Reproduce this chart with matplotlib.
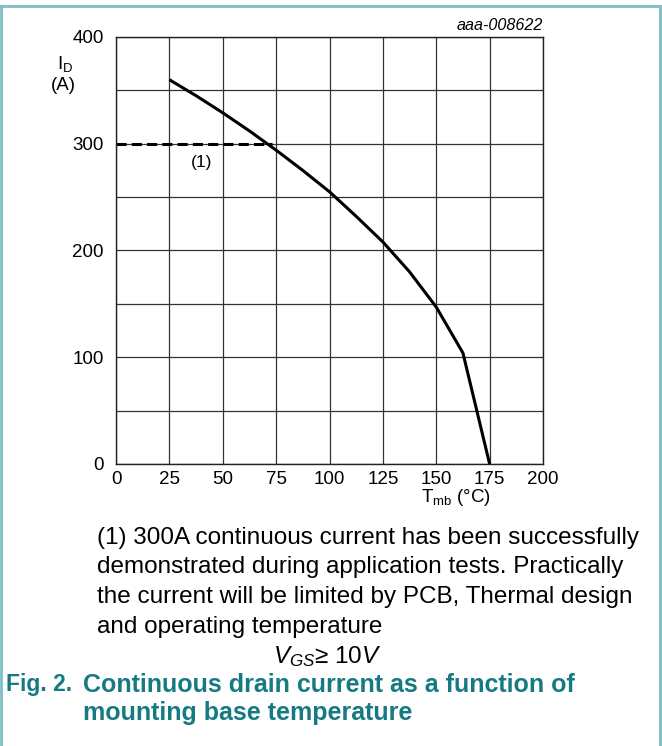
import matplotlib
matplotlib.use("Agg")
import matplotlib.pyplot as plt
from matplotlib.lines import Line2D

plt.rcParams['font.family'] = ['Liberation Sans', 'DejaVu Sans']
plt.rcParams['mathtext.fontset'] = 'custom'
plt.rcParams['mathtext.rm'] = 'Liberation Sans'
plt.rcParams['mathtext.it'] = 'Liberation Sans:italic'

# data
t_mb = [25, 37.5, 50, 62.5, 75, 87.5, 100, 112.5, 125, 137.5, 150, 162.5, 175]
i_d = [360, 345, 329, 312, 294, 275, 255, 232, 208, 180, 147, 104, 0]
limit_t = [0, 73]
limit_i = [300, 300]
x_ticks = [0, 25, 50, 75, 100, 125, 150, 175, 200]
y_ticks = [0, 100, 200, 300, 400]

W, H = 662, 746
fig = plt.figure(figsize=(W / 100, H / 100), dpi=100)
teal = "#167a83"
border = "#7fbfc4"

ax = fig.add_axes([116 / W, 1 - 464 / H, (543 - 116) / W, (464 - 37) / H])
ax.set_xlim(0, 200)
ax.set_ylim(0, 400)
ax.set_xticks(x_ticks)
ax.set_yticks(y_ticks)
ax.set_yticks(range(0, 401, 50), minor=True)
ax.grid(True, which="both", color="#333333", lw=0.9)
ax.tick_params(which="both", length=0, labelsize=13.5)
ax.tick_params(axis="y", pad=9)
ax.tick_params(axis="x", pad=5)
for s in ax.spines.values():
    s.set_linewidth(1.0)
    s.set_color("#222222")

ax.plot(t_mb, i_d, color="black", lw=2.2, solid_capstyle="butt")
ax.plot(limit_t, limit_i, color="black", lw=2.2, dashes=(3.3, 1.7))
ax.text(40, 282, "(1)", fontsize=12.5, ha="center", va="center")

# axis labels
fig.text(57 / W, 1 - 64 / H, r"I$_\mathregular{D}$", fontsize=13.5, ha="left", va="center")
fig.text(63 / W, 1 - 85 / H, "(A)", fontsize=13.5, ha="center", va="center")
fig.text(456 / W, 1 - 498 / H, r"T$_\mathregular{mb}$ (°C)", fontsize=13.5, ha="center", va="center")
fig.text(543 / W, 1 - 25 / H, "aaa-008622", fontsize=11.6, style="italic", ha="right", va="center")

# note
note = ["(1) 300A continuous current has been successfully",
        "demonstrated during application tests. Practically",
        "the current will be limited by PCB, Thermal design",
        "and operating temperature"]
for k, line in enumerate(note):
    fig.text(97 / W, 1 - (538 + 29.5 * k) / H, line, fontsize=17.5, ha="left", va="center")
fig.text(327 / W, 1 - 657 / H, r"$V_{GS}$≥ 10$V$", fontsize=17.5, ha="center", va="center")

# caption
fig.text(6 / W, 1 - 685 / H, "Fig. 2.", fontsize=16.5, weight="bold", color=teal, va="center")
fig.text(83 / W, 1 - 685 / H, "Continuous drain current as a function of", fontsize=18,
         weight="bold", color=teal, va="center")
fig.text(83 / W, 1 - 713 / H, "mounting base temperature", fontsize=18,
         weight="bold", color=teal, va="center")

# frame around the figure
for xs, ys in [([1, 1], [0, H - 6]), ([1, W - 2], [H - 6, H - 6]), ([W - 2, W - 2], [H - 6, 0])]:
    fig.add_artist(Line2D([x / W for x in xs], [y / H for y in ys], color=border, lw=2))

fig.savefig("out.png", dpi=100)
